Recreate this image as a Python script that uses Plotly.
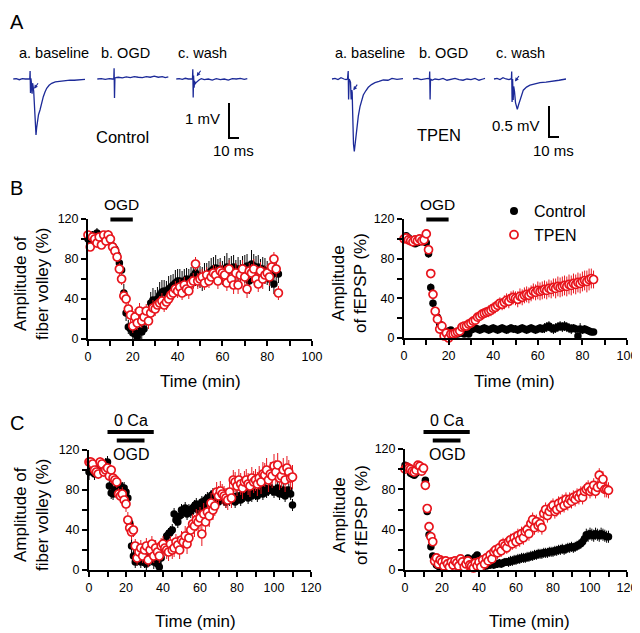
import plotly.graph_objects as go

# The page body has an 8px margin, so the figure occupies screen pixels 8..640 x 8..633.
OFF = 8
W, H = 640 - OFF, 633 - OFF
FONT = "Liberation Sans, Arial, sans-serif"
BLUE = "#1c2a98"
RED = "#e8141c"

# ---------------- Panel A: example traces (ms, mV) ----------------
ctrl_a_t = [0, 3, 6, 9, 12, 14, 15.8, 16.5, 16.8, 17.2, 17.6, 18.2, 18.8, 19.3, 19.8, 20.4, 21.0, 21.6, 22.2, 22.7, 23.4, 24.2, 25.2, 26.7, 28.3, 30, 31.7, 33.4, 35.8, 38.4, 42, 46.7, 51, 56.7, 61, 66, 71.7]
ctrl_a_v = [0.0, 0.01, -0.02, 0.01, 0.0, -0.01, 0.0, 0.0, 0.23, -0.4, 0.02, -0.12, -0.42, -0.12, -0.2, -0.35, -0.7, -1.1, -1.45, -1.6, -1.38, -1.18, -1.02, -0.886, -0.68, -0.506, -0.37, -0.266, -0.18, -0.123, -0.08, -0.057, -0.04, -0.03, -0.035, -0.015, -0.01]
ctrl_b_t = [0, 4, 8, 12, 15, 16.5, 16.8, 17.2, 17.6, 18.5, 21, 25, 29, 33, 37, 41, 45, 49, 53, 57, 61, 65, 68, 71]
ctrl_b_v = [0.0, 0.01, -0.01, 0.01, 0.0, 0.0, 0.31, -0.54, 0.02, 0.04, 0.05, 0.03, 0.06, 0.04, 0.07, 0.05, 0.04, 0.07, 0.05, 0.08, 0.05, 0.07, 0.04, 0.06]
ctrl_c_t = [0, 3, 6, 9, 12, 14, 15.5, 16.2, 16.5, 16.9, 17.3, 17.8, 18.3, 18.8, 19.5, 20.5, 21.5, 23, 25, 28, 32, 36, 40, 44, 48, 52, 56, 60, 64, 68, 71]
ctrl_c_v = [0.0, 0.01, -0.01, 0.02, 0.0, -0.01, 0.0, 0.01, 0.28, -0.53, 0.1, -0.25, -0.05, -0.15, -0.11, -0.08, -0.04, -0.02, 0.01, -0.02, 0.0, -0.03, 0.01, -0.02, 0.0, -0.03, 0.01, 0.0, 0.02, -0.01, 0.01]

tpen_a_t = [0, 3, 6, 9, 12, 14, 15.5, 16.2, 16.6, 17.2, 18.5, 19.2, 19.8, 20.2, 20.6, 21.0, 21.5, 22.3, 23.3, 24.7, 26.3, 28, 29.6, 31.3, 33.8, 36.3, 39.5, 43, 47, 51.3, 56, 60, 65, 71]
tpen_a_v = [0.0, 0.01, -0.01, 0.02, 0.0, -0.01, 0.0, 0.13, -0.33, 0.0, -0.05, -0.33, -0.18, -0.22, -0.5, -0.85, -1.05, -1.17, -1.0, -0.77, -0.6, -0.446, -0.34, -0.258, -0.19, -0.134, -0.09, -0.06, -0.04, -0.016, -0.02, 0.01, -0.005, 0.005]
tpen_b_t = [0, 4, 8, 12, 15, 16.4, 16.7, 17.1, 17.5, 19, 22, 26, 30, 34, 38, 42, 46, 50, 54, 58, 62, 66, 70, 72]
tpen_b_v = [0.0, 0.01, -0.01, 0.0, 0.01, 0.0, 0.12, -0.33, 0.0, -0.02, 0.0, -0.01, 0.01, -0.02, 0.0, 0.01, -0.01, -0.02, 0.0, -0.01, 0.01, -0.02, 0.0, 0.01]
tpen_c_t = [0, 3, 6, 9, 12, 15, 16.5, 17.4, 17.7, 18.1, 18.6, 19.2, 19.7, 20.5, 21.5, 22.4, 23.3, 24.5, 26, 27.6, 29.3, 32.5, 36, 41, 46, 52, 59, 65, 72]
tpen_c_v = [0.0, 0.01, -0.01, 0.02, 0.0, -0.01, 0.0, 0.0, 0.12, -0.37, 0.0, -0.34, -0.12, -0.2, -0.38, -0.46, -0.49, -0.42, -0.34, -0.25, -0.18, -0.13, -0.1, -0.08, -0.06, -0.05, -0.04, -0.02, 0.0]

ctrl_offsets = [0, 84, 163]
tpen_offsets = [0, 81, 162]
sweep_labels = ["a. baseline", "b. OGD", "c. wash"]

# ---------------- Panel B: OGD (time in min, % of baseline) ----------------
time_B = list(range(0, 86))
fv_ctrl_B = [100, 98, 104, 100, 106, 104, 98, 100, 102, 104, 100,
             93, 90, 84, 76, 69, 46, 26, 12, 10, 6, 5, 2, 8, 7, 10,
             18, 26, 36, 39, 38, 40, 44, 47, 48, 46, 50, 52, 54, 56, 58,
             58, 55, 58, 60, 57, 60, 63, 66, 64, 62, 60, 63, 64, 66, 68,
             70, 71, 68, 70, 66, 70, 72, 69, 70, 72, 68, 70, 66, 71, 70,
             73, 58, 75, 73, 70, 72, 69, 70, 68, 66, 60, 64, 55, 66, 65]
fv_ctrl_B_err = [4, 5, 4, 6, 5, 4, 5, 4, 6, 5, 4,
                 6, 6, 7, 8, 9, 9, 8, 7, 6, 6, 5, 5, 6, 7, 6,
                 9, 10, 11, 12, 11, 12, 13, 12, 11, 12, 13, 12, 11, 13, 12,
                 12, 13, 12, 11, 13, 12, 12, 13, 12, 11, 12, 13, 12, 12, 13,
                 12, 13, 12, 11, 12, 13, 14, 12, 13, 12, 11, 12, 13, 12, 14,
                 12, 13, 14, 12, 13, 12, 11, 12, 13, 12, 12, 13, 10, 11, 9]
fv_tpen_B = [104, 92, 102, 100, 96, 102, 94, 104, 98, 104, 100,
             92, 88, 82, 70, 60, 43, 40, 30, 24, 13, 22, 16, 28, 18, 22,
             28, 18, 26, 31, 30, 34, 36, 38, 34, 37, 40, 44, 46, 50, 48,
             52, 46, 54, 50, 48, 56, 58, 75, 58, 60, 62, 56, 64, 58, 62,
             66, 64, 58, 68, 66, 64, 56, 70, 60, 54, 66, 54, 64, 70, 62,
             50, 68, 66, 70, 60, 55, 68, 60, 64, 66, 62, 72, 80, 70, 46]
fv_tpen_B_err = [4, 4, 3, 4, 5, 4, 4, 4, 5, 4, 4,
                 4, 5, 5, 6, 6, 7, 7, 8, 8, 7, 8, 7, 8, 7, 8,
                 7, 8, 7, 8, 7, 6, 7, 8, 7, 8, 7, 6, 7, 8, 7,
                 8, 7, 8, 7, 8, 7, 8, 7, 8, 9, 8, 7, 8, 7, 8,
                 8, 9, 8, 9, 8, 9, 8, 9, 10, 9, 10, 9, 8, 9, 10,
                 9, 8, 9, 10, 9, 8, 9, 10, 9, 8, 9, 8, 7, 8, 7]
ep_ctrl_B = [100, 103, 101, 99, 98, 95, 96, 97, 98, 97, 96,
             85, 51, 35, 27, 21, 14, 9, 5, 3, 7, 8, 6, 5, 4, 5,
             5, 4, 5, 4, 8, 9, 10, 9, 8, 9, 10, 9, 8, 9, 10,
             9, 8, 9, 10, 9, 8, 9, 10, 9, 9, 8, 9, 10, 9, 8,
             9, 10, 9, 8, 9, 10, 9, 10, 11, 12, 10, 9, 10, 11, 12,
             11, 12, 11, 10, 9, 10, 9, 2, 9, 8, 9, 8, 7, 6, 6]
ep_ctrl_B_err = [3, 3, 3, 3, 3, 3, 3, 3, 3, 3, 3,
                 4, 4, 4, 3, 3, 3, 3, 3, 3, 3, 3, 3, 3, 3, 3,
                 3, 3, 3, 3, 4, 4, 4, 4, 4, 4, 4, 4, 4, 4, 4,
                 4, 4, 4, 4, 4, 4, 4, 4, 4, 4, 4, 4, 4, 4, 4,
                 4, 4, 4, 4, 4, 4, 4, 5, 5, 5, 5, 5, 5, 5, 5,
                 5, 5, 5, 5, 5, 4, 4, 4, 6, 4, 4, 4, 4, 3, 3]
ep_tpen_B = [100, 101, 99, 98, 97, 99, 98, 100, 98, 99, 105,
             89, 65, 44, 27, 19, 9, 12, 2, 5, 0, 4, 4, 5, 6, 7,
             11, 12, 12, 14, 15, 17, 18, 21, 22, 24, 25, 26, 27, 28, 30,
             31, 33, 35, 34, 36, 38, 37, 40, 41, 40, 39, 42, 41, 43, 44,
             43, 45, 47, 46, 48, 47, 48, 49, 48, 50, 49, 51, 50, 52, 51,
             52, 53, 52, 54, 53, 55, 54, 56, 55, 57, 58, 57, 59, 60, 59]
ep_tpen_B_err = [3, 3, 3, 3, 3, 3, 3, 3, 3, 3, 3,
                 3, 4, 5, 4, 3, 3, 3, 3, 3, 3, 3, 3, 3, 3, 3,
                 3, 3, 4, 4, 4, 4, 5, 5, 5, 5, 5, 5, 6, 6, 6,
                 6, 6, 6, 6, 7, 7, 7, 7, 7, 7, 8, 8, 8, 8, 8,
                 8, 8, 8, 8, 9, 9, 9, 9, 9, 9, 9, 9, 10, 10, 10,
                 10, 10, 10, 10, 10, 10, 10, 10, 10, 10, 10, 11, 11, 10, 9]

# ---------------- Panel C: 0 Ca + OGD ----------------
time_C = list(range(0, 111))
fv_ctrl_C = [98, 105, 100, 96, 102, 100, 98, 100, 104, 106, 108,
             84, 77, 76, 80, 82, 78, 84, 82, 82, 78, 72, 47, 24, 14, 8,
             10, 12, 8, 10, 8, 6, 12, 10, 14, 8, 12, 6, 3, 12, 22,
             28, 34, 36, 38, 40, 56, 50, 48, 54, 60, 58, 62, 56, 60, 58,
             62, 64, 66, 60, 62, 68, 64, 70, 72, 72, 74, 76, 72, 70, 68,
             72, 74, 70, 68, 72, 70, 74, 72, 68, 74, 72, 70, 76, 74, 78,
             72, 76, 74, 78, 76, 74, 78, 80, 76, 82, 78, 80, 82, 80, 78,
             80, 82, 76, 78, 80, 74, 78, 80, 76, 65]
fv_ctrl_C_err = [8, 7, 6, 6, 6, 5, 6, 6, 6, 6, 6,
                 6, 6, 6, 5, 6, 6, 6, 6, 6, 6, 6, 7, 7, 6, 6,
                 6, 5, 6, 6, 6, 6, 6, 6, 6, 7, 6, 6, 6, 6, 6,
                 6, 6, 6, 6, 6, 6, 6, 6, 6, 6, 6, 6, 6, 6, 6,
                 6, 6, 6, 6, 6, 6, 6, 6, 6, 6, 6, 6, 6, 6, 6,
                 6, 6, 6, 6, 6, 6, 6, 6, 6, 6, 6, 6, 6, 6, 6,
                 6, 6, 6, 6, 6, 6, 6, 6, 6, 6, 6, 6, 6, 6, 6,
                 6, 6, 6, 6, 6, 6, 6, 6, 6, 6]
fv_tpen_C = [108, 108, 106, 100, 98, 96, 108, 106, 98, 100, 102,
             94, 100, 92, 90, 88, 76, 74, 76, 70, 66, 50, 42, 38, 40, 24,
             12, 18, 22, 14, 20, 24, 10, 20, 26, 14, 22, 18, 14, 24, 26,
             22, 20, 18, 26, 20, 22, 28, 25, 20, 30, 28, 34, 26, 32, 40,
             46, 44, 50, 48, 52, 36, 56, 48, 58, 54, 67, 60, 64, 78, 74,
             79, 76, 74, 72, 70, 78, 72, 90, 88, 84, 90, 86, 82, 88, 90,
             86, 84, 92, 88, 90, 86, 92, 88, 96, 95, 100, 90, 96, 94, 104,
             98, 105, 92, 94, 100, 90, 102, 98, 92, 93]
fv_tpen_C_err = [5, 5, 5, 5, 5, 5, 5, 5, 5, 5, 5,
                 5, 5, 6, 6, 6, 6, 7, 7, 8, 8, 8, 8, 8, 7, 7,
                 7, 8, 8, 7, 8, 8, 7, 8, 8, 7, 8, 8, 7, 8, 8,
                 8, 9, 9, 8, 9, 9, 8, 9, 9, 9, 10, 10, 10, 10, 10,
                 10, 11, 11, 12, 11, 12, 11, 12, 11, 11, 10, 10, 10, 10, 10,
                 10, 10, 10, 10, 10, 10, 10, 10, 10, 10, 11, 11, 11, 11, 11,
                 11, 11, 11, 11, 11, 12, 12, 12, 12, 12, 12, 12, 12, 12, 12,
                 12, 12, 12, 12, 12, 12, 12, 12, 12, 12]
ep_ctrl_C = [104, 103, 100, 96, 95, 94, 96, 98, 100, 102, 100,
             89, 58, 35, 23, 14, 8, 5, 4, 2, 4, 6, 3, 5, 4, 6,
             8, 5, 4, 6, 8, 10, 7, 9, 12, 8, 10, 11, 13, 15, 6,
             4, 3, 5, 4, 5, 5, 6, 5, 6, 6, 7, 6, 7, 8, 8,
             8, 9, 9, 10, 10, 11, 11, 12, 12, 12, 13, 13, 14, 14, 15,
             15, 16, 16, 16, 17, 17, 17, 18, 18, 18, 19, 19, 20, 20, 21,
             20, 21, 22, 22, 23, 22, 23, 24, 25, 26, 28, 31, 35, 34, 36,
             35, 34, 36, 35, 34, 36, 35, 34, 33, 33]
ep_ctrl_C_err = [3, 3, 3, 3, 3, 3, 3, 3, 3, 3, 3,
                 3, 3, 3, 3, 3, 3, 3, 3, 3, 3, 3, 3, 3, 3, 3,
                 3, 3, 3, 3, 3, 3, 3, 3, 3, 3, 3, 3, 3, 3, 3,
                 3, 3, 3, 3, 3, 4, 4, 4, 4, 4, 4, 4, 4, 4, 4,
                 5, 5, 5, 5, 5, 5, 5, 5, 5, 5, 5, 5, 5, 5, 5,
                 5, 5, 5, 5, 5, 5, 5, 5, 5, 5, 5, 5, 5, 5, 5,
                 5, 5, 5, 5, 5, 5, 5, 5, 5, 5, 5, 6, 6, 6, 6,
                 6, 6, 6, 6, 6, 6, 6, 6, 6, 6]
ep_tpen_C = [100, 102, 101, 100, 98, 97, 99, 104, 103, 98, 101,
             84, 61, 43, 33, 28, 9, 12, 6, 10, 8, 4, 9, 6, 3, 8,
             5, 9, 7, 4, 11, 8, 3, 6, 9, 5, 4, 2, 7, 4, 8,
             3, 10, 6, 12, 9, 15, 11, 18, 20, 17, 22, 19, 26, 24, 22,
             28, 30, 26, 32, 28, 34, 30, 36, 32, 38, 40, 36, 46, 50, 42,
             48, 44, 46, 42, 56, 60, 54, 58, 62, 64, 58, 60, 66, 62, 68,
             64, 70, 66, 70, 68, 72, 70, 74, 72, 76, 72, 78, 80, 82, 78,
             80, 84, 78, 82, 94, 84, 90, 80, 80, 79]
ep_tpen_C_err = [3, 3, 3, 3, 3, 3, 3, 3, 3, 3, 3,
                 3, 3, 3, 3, 3, 3, 3, 3, 3, 3, 3, 3, 3, 3, 3,
                 3, 3, 3, 3, 3, 3, 3, 3, 3, 3, 3, 3, 3, 3, 3,
                 3, 4, 4, 4, 5, 5, 5, 5, 5, 6, 6, 6, 6, 6, 6,
                 6, 6, 6, 6, 7, 7, 7, 7, 7, 7, 7, 7, 7, 7, 7,
                 7, 7, 7, 7, 7, 7, 7, 7, 7, 7, 7, 7, 7, 7, 7,
                 7, 7, 7, 7, 7, 7, 7, 7, 7, 7, 7, 7, 7, 7, 7,
                 7, 7, 7, 7, 7, 7, 8, 8, 8, 8]

# treatment windows (min)
ogd_B = (10, 20)
zero_ca_C = (10, 35)
ogd_C = (15, 30)

y_ticks = [0, 40, 80, 120]

for name, arr, n in [("fv_ctrl_B", fv_ctrl_B, 86), ("fv_ctrl_B_err", fv_ctrl_B_err, 86), ("fv_tpen_B", fv_tpen_B, 86),
                     ("fv_tpen_B_err", fv_tpen_B_err, 86), ("ep_ctrl_B", ep_ctrl_B, 86), ("ep_ctrl_B_err", ep_ctrl_B_err, 86),
                     ("ep_tpen_B", ep_tpen_B, 86), ("ep_tpen_B_err", ep_tpen_B_err, 86),
                     ("fv_ctrl_C", fv_ctrl_C, 111), ("fv_ctrl_C_err", fv_ctrl_C_err, 111), ("fv_tpen_C", fv_tpen_C, 111),
                     ("fv_tpen_C_err", fv_tpen_C_err, 111), ("ep_ctrl_C", ep_ctrl_C, 111), ("ep_ctrl_C_err", ep_ctrl_C_err, 111),
                     ("ep_tpen_C", ep_tpen_C, 111), ("ep_tpen_C_err", ep_tpen_C_err, 111)]:
    assert len(arr) == n, f"{name} has {len(arr)} expected {n}"


def PX(x):
    # screen pixel -> paper fraction
    return (x - OFF) / W


def PY(y):
    return 1 - (y - OFF) / H


fig = go.Figure()

# panel geometry (screen pixels): x0, x1, ytop, ybottom, xmax
panels = {
    "": (88, 312, 219, 339, 100),
    "2": (404, 627, 219, 338, 100),
    "3": (89, 311, 450, 570, 120),
    "4": (405, 627, 449, 570, 120),
}

series = [
    ("", time_B, fv_ctrl_B, fv_ctrl_B_err, fv_tpen_B, fv_tpen_B_err),
    ("2", time_B, ep_ctrl_B, ep_ctrl_B_err, ep_tpen_B, ep_tpen_B_err),
    ("3", time_C, fv_ctrl_C, fv_ctrl_C_err, fv_tpen_C, fv_tpen_C_err),
    ("4", time_C, ep_ctrl_C, ep_ctrl_C_err, ep_tpen_C, ep_tpen_C_err),
]

for k, t, yc, ec, yt, et in series:
    fig.add_trace(go.Scatter(
        x=t, y=yc, mode="markers", xaxis="x" + k, yaxis="y" + k, showlegend=False,
        marker=dict(color="black", size=7.5),
        error_y=dict(type="data", array=ec, color="black", thickness=1, width=0),
        cliponaxis=False))
    fig.add_trace(go.Scatter(
        x=t, y=yt, mode="markers", xaxis="x" + k, yaxis="y" + k, showlegend=False,
        marker=dict(color="white", size=8, line=dict(color=RED, width=1.7)),
        error_y=dict(type="data", array=et, color=RED, thickness=1, width=0),
        cliponaxis=False))

# legend entries
fig.add_trace(go.Scatter(x=[None], y=[None], mode="markers", name="Control",
                         marker=dict(color="black", size=8), xaxis="x2", yaxis="y2"))
fig.add_trace(go.Scatter(x=[None], y=[None], mode="markers", name="TPEN",
                         marker=dict(color="white", size=8, line=dict(color=RED, width=1.8)),
                         xaxis="x2", yaxis="y2"))

axis_common = dict(showline=True, linecolor="black", linewidth=2, ticks="outside",
                   ticklen=5, tickwidth=2, tickcolor="black", showgrid=False, zeroline=False,
                   automargin=False,
                   tickfont=dict(family=FONT, size=12.5, color="black"))

layout = dict(width=W, height=H, margin=dict(l=0, r=0, t=0, b=0, pad=0, autoexpand=False),
              autosize=False,
              plot_bgcolor="white", paper_bgcolor="white", font=dict(family=FONT, color="black"))

for k, (x0, x1, yt_, yb_, xmax) in panels.items():
    layout["xaxis" + k] = dict(axis_common, domain=[PX(x0), PX(x1)], range=[0, xmax],
                               anchor="y" + k, tickvals=list(range(0, xmax + 1, 20)),
                               minor=dict(dtick=10, ticklen=5, tickwidth=2, ticks="outside", tickcolor="black"))
    layout["yaxis" + k] = dict(axis_common, domain=[PY(yb_), PY(yt_)], range=[0, 120],
                               anchor="x" + k, tickvals=y_ticks,
                               minor=dict(dtick=20, ticklen=5, tickwidth=2, ticks="outside", tickcolor="black"))

# Panel A axes
# control: t=0 at px 13.3, 1 px/ms; baseline at y=79 px, 35 px/mV
layout["xaxis5"] = dict(domain=[PX(10), PX(250)], range=[-3.3, 236.7], visible=False, anchor="y5", automargin=False)
layout["yaxis5"] = dict(domain=[PY(145), PY(60)], range=[-(145 - 79) / 35, (79 - 60) / 35], visible=False, anchor="x5", automargin=False)
# TPEN: t=0 at px 332, 1 px/ms; baseline at 79 px, 62 px/mV
layout["xaxis6"] = dict(domain=[PX(325), PX(575)], range=[-7, 243], visible=False, anchor="y6", automargin=False)
layout["yaxis6"] = dict(domain=[PY(160), PY(60)], range=[-(160 - 79) / 62, (79 - 60) / 62], visible=False, anchor="x6", automargin=False)

fig.update_layout(**layout)

for (ts, vs), off in zip([(ctrl_a_t, ctrl_a_v), (ctrl_b_t, ctrl_b_v), (ctrl_c_t, ctrl_c_v)], ctrl_offsets):
    fig.add_trace(go.Scatter(x=[t + off for t in ts], y=vs, mode="lines", xaxis="x5", yaxis="y5",
                             line=dict(color=BLUE, width=1.3), showlegend=False, hoverinfo="skip"))
for (ts, vs), off in zip([(tpen_a_t, tpen_a_v), (tpen_b_t, tpen_b_v), (tpen_c_t, tpen_c_v)], tpen_offsets):
    fig.add_trace(go.Scatter(x=[t + off for t in ts], y=vs, mode="lines", xaxis="x6", yaxis="y6",
                             line=dict(color=BLUE, width=1.3), showlegend=False, hoverinfo="skip"))

shapes = []
annotations = []


def txt(text, x, y, size, xanchor="center", yanchor="middle", angle=0):
    annotations.append(dict(text=text, x=PX(x), y=PY(y), xref="paper", yref="paper", showarrow=False,
                            xanchor=xanchor, yanchor=yanchor, textangle=angle,
                            font=dict(family=FONT, size=size, color="black")))


# scale bars (10 ms horizontal, 1 mV / 0.5 mV vertical)
for ax, (bx, by), mv in [("5", (215.7, -1.686), 1.0), ("6", (217, -0.935), 0.5)]:
    shapes.append(dict(type="path", xref="x" + ax, yref="y" + ax,
                       path=f"M {bx},{by + mv} L {bx},{by} L {bx + 10},{by}",
                       line=dict(color="black", width=2)))

# small arrows pointing at fiber volley
for ax, x, y in [("5", 20.8, -0.28), ("5", 183.4, 0.08), ("6", 21.3, -0.18), ("6", 183, -0.04)]:
    annotations.append(dict(x=x, y=y, xref="x" + ax, yref="y" + ax, ax=5, ay=-7, text="",
                            showarrow=True, arrowhead=2, arrowsize=0.7, arrowwidth=1.1, arrowcolor=BLUE))

# panel A labels
for lab, cx in zip(sweep_labels, [53.5, 125.5, 202.5]):
    txt(lab, cx, 53, 14.5)
for lab, cx in zip(sweep_labels, [370, 443.5, 520.5]):
    txt(lab, cx, 53, 14.5)
txt("Control", 122, 137, 16.5)
txt("TPEN", 439, 135, 16.5)
txt("1 mV", 222, 119, 15, xanchor="right")
txt("0.5 mV", 542, 125, 15, xanchor="right")
txt("10 ms", 233, 150, 15)
txt("10 ms", 553, 150, 15)

# panel letters
txt("A", 8, 9, 20, xanchor="left", yanchor="top")
txt("B", 8, 188, 20, xanchor="left")
txt("C", 8, 423, 20, xanchor="left")

# axis titles
for cx, cy in [(200, 381), (515, 381), (195, 621), (529, 621)]:
    txt("Time (min)", cx, cy, 17)
for cx, cy in [(31, 284), (31, 515)]:
    txt("Amplitude of<br>fiber volley (%)", cx, cy, 17, angle=-90)
for cx, cy in [(350, 283), (350, 515)]:
    txt("Amplitude<br>of fEPSP (%)", cx, cy, 17, angle=-90)


def data_to_px(k, t):
    x0, x1, _, _, xmax = panels[k]
    return x0 + (x1 - x0) * t / xmax


def bar(k, t0, t1, ypx, lw=4):
    shapes.append(dict(type="line", xref="paper", yref="paper",
                       x0=PX(data_to_px(k, t0)), x1=PX(data_to_px(k, t1)), y0=PY(ypx), y1=PY(ypx),
                       line=dict(color="black", width=lw)))


# OGD bars in B
for k in ["", "2"]:
    bar(k, ogd_B[0], ogd_B[1], 219.5)
    txt("OGD", data_to_px(k, sum(ogd_B) / 2), 205, 15.5)
# 0 Ca + OGD bars in C
for k in ["3", "4"]:
    bar(k, zero_ca_C[0], zero_ca_C[1], 432)
    bar(k, ogd_C[0], ogd_C[1], 440.5)
    txt("0 Ca", data_to_px(k, sum(zero_ca_C) / 2), 420, 16)
    txt("OGD", data_to_px(k, sum(ogd_C) / 2), 454, 16)

fig.update_layout(shapes=shapes, annotations=annotations,
                  legend=dict(x=PX(494), y=PY(194), xanchor="left", yanchor="top",
                              font=dict(family=FONT, size=16, color="black"),
                              bgcolor="rgba(0,0,0,0)", itemwidth=30, tracegroupgap=0))

fig.write_html("out.html")
